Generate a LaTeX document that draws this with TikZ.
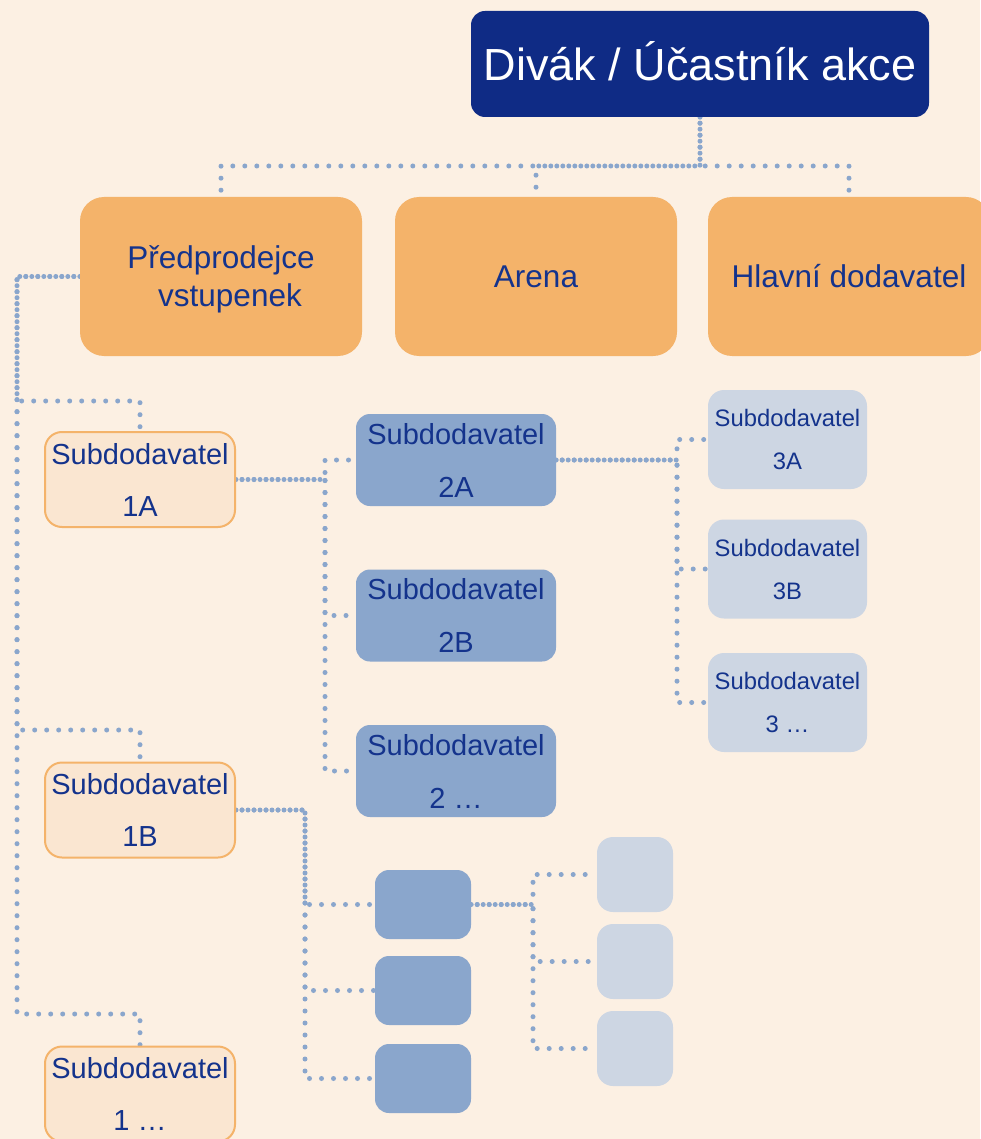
\documentclass[tikz,border=0pt]{standalone}
\usepackage{fontspec}
\setmainfont{Liberation Sans}
\pgfdeclarelayer{bg}
\pgfsetlayers{bg,main}
\definecolor{bgc}{HTML}{FCF0E3}
\definecolor{navy}{HTML}{0F2B85}
\definecolor{textblue}{HTML}{14338C}
\definecolor{orangefill}{HTML}{F4B36A}
\definecolor{lorange}{HTML}{FAE6D1}
\definecolor{midblue}{HTML}{8AA6CC}
\definecolor{lightblue}{HTML}{CDD6E3}
\definecolor{dotc}{HTML}{8AA6CC}
\begin{document}
\begin{tikzpicture}[x=1pt,y=-1pt,
  box/.style={rectangle, inner sep=0pt, align=center, text=textblue},
  topbox/.style={box, fill=navy, text=white, rounded corners=14pt, minimum width=458pt, minimum height=106pt, font=\fontsize{45}{54}\selectfont, text height=34pt, text depth=0pt},
  lvltwo/.style={box, fill=orangefill, rounded corners=24pt, minimum width=282pt, minimum height=159pt, font=\fontsize{31.5}{38}\selectfont},
  lvlone/.style={box, fill=lorange, draw=orangefill, line width=2pt, rounded corners=17pt, minimum width=190pt, minimum height=95pt, font=\fontsize{29}{52}\selectfont},
  midbox/.style={box, fill=midblue, rounded corners=14pt, minimum width=200pt, minimum height=92pt, font=\fontsize{29}{53}\selectfont},
  lightbox/.style={box, fill=lightblue, rounded corners=16pt, minimum width=159pt, minimum height=99pt, font=\fontsize{23.8}{43}\selectfont},
  smallmid/.style={box, fill=midblue, rounded corners=14pt, minimum width=96pt, minimum height=69pt},
  smalllight/.style={box, fill=lightblue, rounded corners=16pt, minimum width=76pt, minimum height=75pt},
  link/.style={draw=dotc, line width=5pt, line cap=round, dash pattern=on 0pt off 12pt},
  linkb/.style={link, dash phase=6pt},
  linkc/.style={link, dash phase=6pt}
]
\useasboundingbox (0,0) rectangle (980,1139);
\begin{pgfonlayer}{bg}
\fill[bgc] (0,0) rectangle (980,1139);
\end{pgfonlayer}

% nodes
\node[topbox] (top) at (700,64) {Divák / Účastník akce};
\node[lvltwo, text depth=0pt] (P) at (221,276.5) {Předprodejce\\\hspace*{18pt}vstupenek};
\node[lvltwo] (A) at (536,276.5) {Arena};
\node[lvltwo] (H) at (849,276.5) {Hlavní dodavatel};

\node[lvlone] (n1A) at (140,479.5) {Subdodavatel\\1A};
\node[lvlone] (n1B) at (140,810) {Subdodavatel\\1B};
\node[lvlone] (n1C) at (140,1094) {Subdodavatel\\1 …};

\node[midbox] (n2A) at (456,460) {Subdodavatel\\2A};
\node[midbox] (n2B) at (456,615.5) {Subdodavatel\\2B};
\node[midbox] (n2C) at (456,771) {Subdodavatel\\2 …};

\node[lightbox] (n3A) at (787.5,439.5) {Subdodavatel\\3A};
\node[lightbox] (n3B) at (787.5,569) {Subdodavatel\\3B};
\node[lightbox] (n3C) at (787.5,702.5) {Subdodavatel\\3 …};

\node[smallmid] (d1) at (423,904.5) {};
\node[smallmid] (d2) at (423,990.5) {};
\node[smallmid] (d3) at (423,1078.5) {};

\node[smalllight] (l1) at (635,874.5) {};
\node[smalllight] (l2) at (635,961.5) {};
\node[smalllight] (l3) at (635,1048.5) {};

% connectors
\begin{pgfonlayer}{bg}
\draw[link]  (top.south) -- (700,166) -| (P.north);
\draw[linkb] (top.south) -- (700,166) -| (A.north);
\draw[linkc] (top.south) -- (700,166) -| (H.north);

\draw[link]  (P.west) -- (17,276.5) |- (140,401) -- (n1A.north);
\draw[linkb] (P.west) -- (17,276.5) |- (140,730) -- (n1B.north);
\draw[linkc] (P.west) -- (17,276.5) |- (140,1014) -- (n1C.north);

\draw[link]  (n1A.east) -- (325,479.5) |- (n2A.west);
\draw[linkb] (n1A.east) -- (325,479.5) |- (n2B.west);
\draw[linkc] (n1A.east) -- (325,479.5) |- (n2C.west);

\draw[link]  (n2A.east) -- (677,460) |- (n3A.west);
\draw[linkb] (n2A.east) -- (677,460) |- (n3B.west);
\draw[linkc] (n2A.east) -- (677,460) |- (n3C.west);

\draw[link]  (n1B.east) -- (305,810) |- (d1.west);
\draw[linkb] (n1B.east) -- (305,810) |- (d2.west);
\draw[linkc] (n1B.east) -- (305,810) |- (d3.west);

\draw[link]  (d1.east) -- (533,904.5) |- (l1.west);
\draw[linkb] (d1.east) -- (533,904.5) |- (l2.west);
\draw[linkc] (d1.east) -- (533,904.5) |- (l3.west);
\end{pgfonlayer}
\end{tikzpicture}
\end{document}
